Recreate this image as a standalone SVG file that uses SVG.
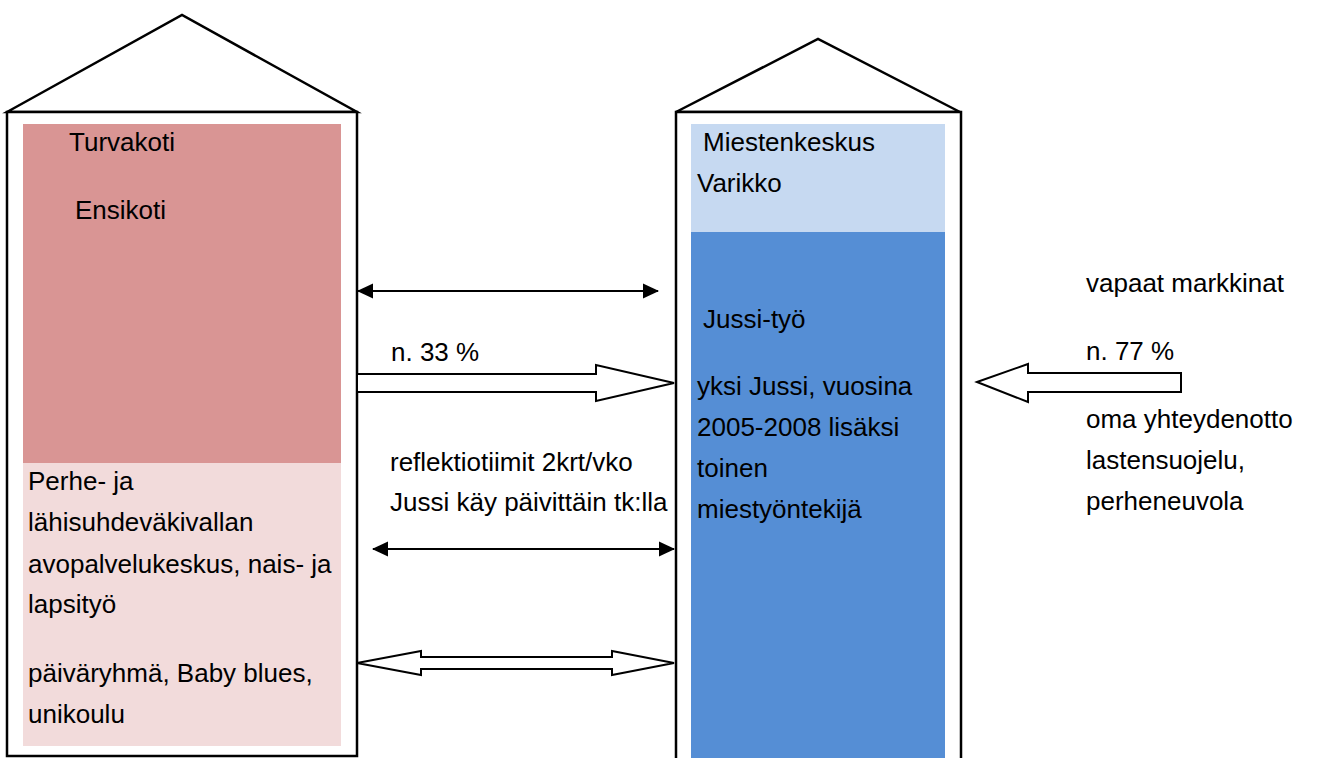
<svg xmlns="http://www.w3.org/2000/svg" width="1319" height="758" viewBox="0 0 1319 758">
<style>
.ln{fill:none;stroke:#000;stroke-width:2}
.wall{fill:#fff;stroke:#000;stroke-width:2.5}
.blk{fill:#fff;stroke:#000;stroke-width:2;stroke-linejoin:miter}
text{font-family:"Liberation Sans",Arial,sans-serif;font-size:26px;fill:#000}
</style>
<defs>
<marker id="ah" viewBox="0 0 16 16" refX="15" refY="8" markerWidth="16" markerHeight="16" markerUnits="userSpaceOnUse" orient="auto-start-reverse">
<path d="M0,0.5 L16,8 L0,15.5 Z" fill="#000"/>
</marker>
</defs>
<rect width="1319" height="758" fill="#fff"/>
<g id="house-left">
<polygon class="wall" points="7,112 182,15 357,112"/>
<rect class="wall" x="7" y="112" width="350" height="644"/>
<rect x="23" y="124" width="318" height="339" fill="#D99594"/>
<rect x="23" y="463" width="318" height="283" fill="#F2DBDB"/>
<text x="69" y="151">Turvakoti</text>
<text x="75" y="219">Ensikoti</text>
<text x="28" y="490">Perhe- ja</text>
<text x="28" y="531">lähisuhdeväkivallan</text>
<text x="28" y="573">avopalvelukeskus, nais- ja</text>
<text x="28" y="613">lapsityö</text>
<text x="28" y="682">päiväryhmä, Baby blues,</text>
<text x="28" y="723">unikoulu</text>
</g>
<g id="house-right">
<polygon class="wall" points="676,112 818,39 960,112"/>
<rect class="wall" x="676" y="112" width="285" height="660"/>
<rect x="691" y="124" width="254" height="108" fill="#C6D9F1"/>
<rect x="691" y="232" width="254" height="526" fill="#558ED5"/>
<text x="703" y="151">Miestenkeskus</text>
<text x="697" y="192">Varikko</text>
<text x="703" y="328">Jussi-työ</text>
<text x="697" y="395">yksi Jussi, vuosina</text>
<text x="697" y="436">2005-2008 lisäksi</text>
<text x="697" y="477">toinen</text>
<text x="697" y="518">miestyöntekijä</text>
</g>
<g id="labels">
<text x="391" y="361">n. 33 %</text>
<text x="390" y="471">reflektiotiimit 2krt/vko</text>
<text x="390" y="511">Jussi käy päivittäin tk:lla</text>
<text x="1086" y="292">vapaat markkinat</text>
<text x="1086" y="360">n. 77 %</text>
<text x="1086" y="428">oma yhteydenotto</text>
<text x="1086" y="469">lastensuojelu,</text>
<text x="1086" y="510">perheneuvola</text>
</g>
<g id="connectors">
<line class="ln" x1="358" y1="291" x2="658" y2="291" marker-start="url(#ah)" marker-end="url(#ah)"/>
<line class="ln" x1="373" y1="549" x2="674" y2="549" marker-start="url(#ah)" marker-end="url(#ah)"/>
<polygon class="blk" points="357,374 596,374 596,365 674,383 596,401 596,392 357,392"/>
<polygon class="blk" points="357,663 421,651 421,657 612,657 612,651 674,663 612,675 612,669 421,669 421,675"/>
<polygon class="blk" points="977,382 1028,364 1028,373 1181,373 1181,392 1028,392 1028,402"/>
</g>
</svg>
